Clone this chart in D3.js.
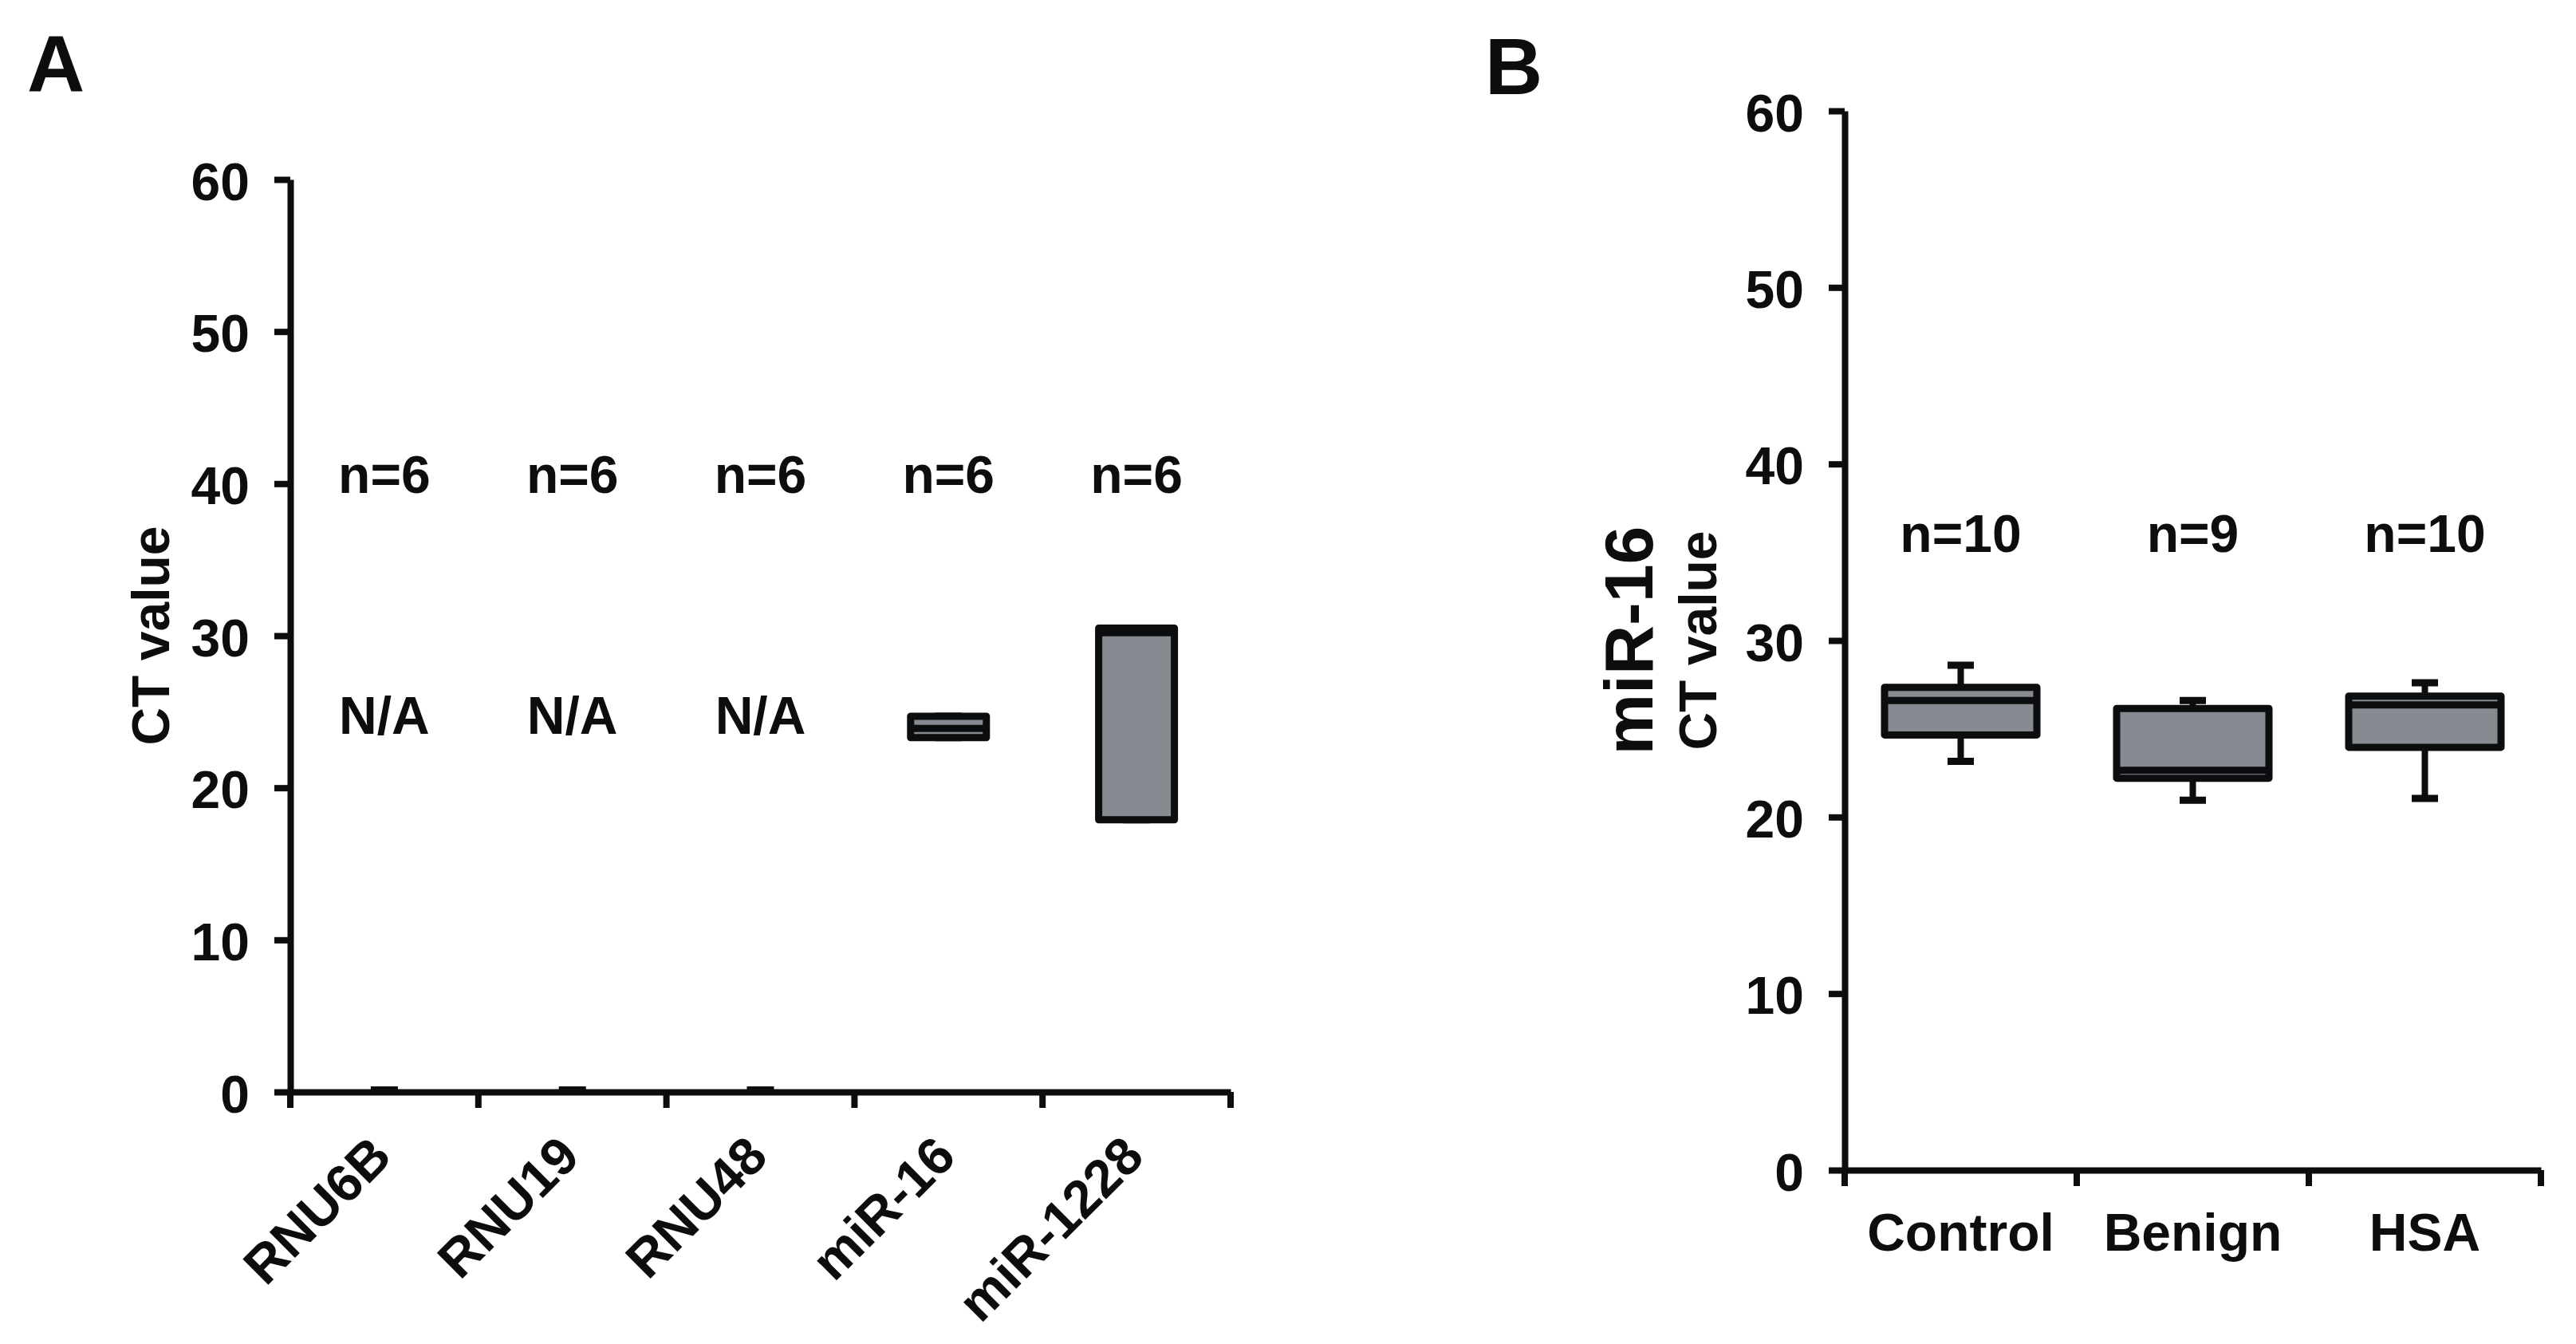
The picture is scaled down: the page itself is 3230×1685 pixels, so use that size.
<!DOCTYPE html>
<html>
<head>
<meta charset="utf-8">
<script src="https://cdn.jsdelivr.net/npm/d3@7"></script>
<style>
  body { margin: 0; background: #fff; }
  svg { display: block; }
  text { font-family: "Liberation Sans", Arial, Helvetica, sans-serif; font-weight: bold; fill: #0b0d0e; }
  .axis path, .axis line, .bound-tick { stroke: #0b0d0e; stroke-width: 8; fill: none; }
  .axis text { font-size: 66px; }
  .box { fill: #878a91; stroke: #0b0d0e; stroke-width: 9; stroke-linejoin: round; }
  .median, .cap { stroke: #0b0d0e; stroke-width: 9; }
  .whisker { stroke: #0b0d0e; stroke-width: 8; }
  .zero-mark { stroke: #0b0d0e; stroke-width: 6; }
</style>
</head>
<body>
<svg id="chart"></svg>
<script>
// Panel A: candidate reference genes
const categoriesA = ['RNU6B', 'RNU19', 'RNU48', 'miR-16', 'miR-1228'];
const countsA = [6, 6, 6, 6, 6];
// five-number summaries, null = no amplification (N/A)
const minA    = [null, null, null, 23.3, 17.9];
const q1A     = [null, null, null, 23.3, 17.9];
const medianA = [null, null, null, 23.9, 30.2];
const q3A     = [null, null, null, 24.7, 30.5];
const maxA    = [null, null, null, 24.7, 30.5];

// Panel B: miR-16 by group
const categoriesB = ['Control', 'Benign', 'HSA'];
const countsB = [10, 9, 10];
const minB    = [23.15, 20.95, 21.05];
const q1B     = [24.65, 22.2, 23.95];
const medianB = [26.6, 22.65, 26.35];
const q3B     = [27.35, 26.15, 26.85];
const maxB    = [28.6, 26.6, 27.6];

const yTicks = [0, 10, 20, 30, 40, 50, 60];

function buildRows(cats, counts, mins, q1s, meds, q3s, maxs) {
  return cats.map((c, i) => ({
    label: c, n: counts[i],
    min: mins[i], q1: q1s[i], median: meds[i], q3: q3s[i], max: maxs[i]
  }));
}

class BoxPlot {

  constructor(_config, _data) {
    this.config = {
      svg: _config.svg,
      left: _config.left,
      top: _config.top,
      width: _config.width,
      height: _config.height,
      boxWidth: _config.boxWidth,
      capWidth: _config.capWidth || 33,
      rotateLabels: _config.rotateLabels || false,
      nValue: _config.nValue,
      naValue: _config.naValue || 23.55,
      titles: _config.titles || [],
      panelLabel: _config.panelLabel,
    }
    this.data = _data;
    this.initVis();
  }

  initVis() {
    let vis = this;
    const c = vis.config;

    vis.chart = c.svg.append('g')
        .attr('transform', `translate(${c.left},${c.top})`);

    vis.yScale = d3.scaleLinear()
        .domain([0, 60])
        .range([c.height, 0]);

    vis.xScale = d3.scaleBand()
        .domain(vis.data.map(d => d.label))
        .range([0, c.width])
        .padding(0);

    vis.yAxis = d3.axisLeft(vis.yScale)
        .tickValues(yTicks)
        .tickSize(20)
        .tickSizeOuter(0)
        .tickPadding(31);

    vis.xAxis = d3.axisBottom(vis.xScale)
        .tickSize(0)
        .tickSizeOuter(0)
        .tickPadding(54);

    vis.renderVis();
  }

  renderVis() {
    let vis = this;
    const c = vis.config;
    const x = vis.xScale, y = vis.yScale;
    const bw = x.bandwidth();

    // axes
    const yG = vis.chart.append('g')
        .attr('class', 'axis y-axis')
        .call(vis.yAxis);
    yG.selectAll('text').attr('dy', '0.38em');

    const xG = vis.chart.append('g')
        .attr('class', 'axis x-axis')
        .attr('transform', `translate(0,${c.height})`)
        .call(vis.xAxis);

    if (c.rotateLabels) {
      xG.selectAll('.tick text')
          .attr('x', 0).attr('y', 0).attr('dy', 0)
          .attr('text-anchor', 'end')
          .attr('transform', 'translate(12,84) rotate(-45)');
    }

    // ticks on category boundaries
    const bounds = vis.data.map(d => x(d.label)).concat([x.range()[1]]);
    vis.chart.selectAll('.bound-tick')
        .data(bounds)
        .join('line')
        .attr('class', 'bound-tick')
        .attr('x1', d => d).attr('x2', d => d)
        .attr('y1', c.height).attr('y2', c.height + 20);

    const valid = vis.data.filter(d => d.median !== null);
    const na = vis.data.filter(d => d.median === null);
    const cx = d => x(d.label) + bw / 2;

    // whiskers
    vis.chart.selectAll('.whisker')
        .data(valid)
        .join('line')
        .attr('class', 'whisker')
        .attr('x1', cx).attr('x2', cx)
        .attr('y1', d => y(d.max)).attr('y2', d => y(d.min));

    vis.chart.selectAll('.cap-top')
        .data(valid)
        .join('line')
        .attr('class', 'cap cap-top')
        .attr('x1', d => cx(d) - c.capWidth / 2).attr('x2', d => cx(d) + c.capWidth / 2)
        .attr('y1', d => y(d.max)).attr('y2', d => y(d.max));

    vis.chart.selectAll('.cap-bottom')
        .data(valid)
        .join('line')
        .attr('class', 'cap cap-bottom')
        .attr('x1', d => cx(d) - c.capWidth / 2).attr('x2', d => cx(d) + c.capWidth / 2)
        .attr('y1', d => y(d.min)).attr('y2', d => y(d.min));

    // boxes
    vis.chart.selectAll('.box')
        .data(valid)
        .join('rect')
        .attr('class', 'box')
        .attr('x', d => cx(d) - c.boxWidth / 2)
        .attr('width', c.boxWidth)
        .attr('y', d => y(d.q3))
        .attr('height', d => y(d.q1) - y(d.q3));

    vis.chart.selectAll('.median')
        .data(valid)
        .join('line')
        .attr('class', 'median')
        .attr('x1', d => cx(d) - c.boxWidth / 2).attr('x2', d => cx(d) + c.boxWidth / 2)
        .attr('y1', d => y(d.median)).attr('y2', d => y(d.median));

    // flat marks at zero for groups with no signal
    vis.chart.selectAll('.zero-mark')
        .data(na)
        .join('line')
        .attr('class', 'zero-mark')
        .attr('x1', d => cx(d) - 17).attr('x2', d => cx(d) + 17)
        .attr('y1', y(0) - 4).attr('y2', y(0) - 4);

    vis.chart.selectAll('.na-label')
        .data(na)
        .join('text')
        .attr('class', 'na-label')
        .attr('x', cx)
        .attr('y', y(c.naValue))
        .attr('text-anchor', 'middle')
        .style('font-size', '66px')
        .text('N/A');

    // sample sizes
    vis.chart.selectAll('.n-label')
        .data(vis.data)
        .join('text')
        .attr('class', 'n-label')
        .attr('x', cx)
        .attr('y', y(c.nValue))
        .attr('text-anchor', 'middle')
        .style('font-size', '66px')
        .text(d => `n=${d.n}`);

    // axis titles
    c.titles.forEach(t => {
      vis.chart.append('text')
          .attr('class', 'axis-title')
          .attr('transform', `translate(${t.x},${c.height / 2}) rotate(-90)`)
          .attr('text-anchor', 'middle')
          .style('font-size', t.size + 'px')
          .text(t.text);
    });

    // panel letter
    c.svg.append('text')
        .attr('x', c.panelLabel.x)
        .attr('y', c.panelLabel.y)
        .style('font-size', '100px')
        .text(c.panelLabel.text);
  }
}

const svg = d3.select('#chart')
    .attr('width', 3230)
    .attr('height', 1685);

new BoxPlot({
  svg: svg,
  left: 364, top: 225, width: 1179, height: 1144,
  boxWidth: 95,
  rotateLabels: true,
  nValue: 39.4,
  titles: [{text: 'CT value', x: -152, size: 66}],
  panelLabel: {text: 'A', x: 34, y: 115},
}, buildRows(categoriesA, countsA, minA, q1A, medianA, q3A, maxA));

new BoxPlot({
  svg: svg,
  left: 2313, top: 139, width: 873, height: 1328,
  boxWidth: 191,
  capWidth: 33,
  nValue: 35,
  titles: [{text: 'miR-16', x: -241, size: 86}, {text: 'CT value', x: -161, size: 66}],
  panelLabel: {text: 'B', x: 1862, y: 118},
}, buildRows(categoriesB, countsB, minB, q1B, medianB, q3B, maxB));
</script>
</body>
</html>
